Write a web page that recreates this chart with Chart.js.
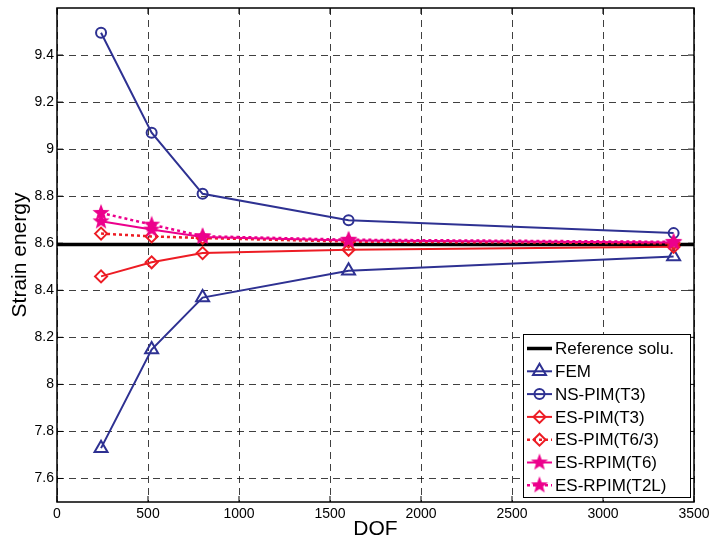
<!DOCTYPE html>
<html>
<head>
<meta charset="utf-8">
<title>Strain energy vs DOF</title>
<script src="https://cdn.jsdelivr.net/npm/chart.js@4.4.1/dist/chart.umd.min.js"></script>
<style>
  html, body { margin: 0; padding: 0; background: #fff; }
  #wrap { width: 711px; height: 542px; }
</style>
</head>
<body>
<div id="wrap"><canvas id="strainChart" width="711" height="542"></canvas></div>
<script>
// Data
const dof = [242, 520, 800, 1602, 3388];
const refValue = 8.595;
const femValues = [7.729, 8.148, 8.369, 8.483, 8.544];
const nsPimValues = [9.495, 9.07, 8.81, 8.698, 8.643];
const esPimT3Values = [8.459, 8.519, 8.558, 8.572, 8.585];
const esPimT63Values = [8.641, 8.629, 8.622, 8.607, 8.6];
const esRpimT6Values = [8.693, 8.658, 8.627, 8.612, 8.603];
const esRpimT2LValues = [8.729, 8.679, 8.63, 8.615, 8.606];

const xTicks = [0, 500, 1000, 1500, 2000, 2500, 3000, 3500];
const yTicks = [7.6, 7.8, 8, 8.2, 8.4, 8.6, 8.8, 9, 9.2, 9.4];

const BLUE = "#2e3192";
const RED = "#ed1c24";
const PINK = "#ec008c";
const FONT = "'Liberation Sans', Arial, Helvetica, sans-serif";

// Filled five point star (matlab pentagram), used as a point image
function makeStar(color, r) {
  const c = document.createElement("canvas");
  const s = Math.ceil(r * 2 + 2);
  c.width = s;
  c.height = s;
  const g = c.getContext("2d");
  g.fillStyle = color;
  g.beginPath();
  for (let i = 0; i < 10; i++) {
    const rad = i % 2 === 0 ? r : r * 0.42;
    const a = -Math.PI / 2 + (i * Math.PI) / 5;
    const px = s / 2 + rad * Math.cos(a);
    const py = s / 2 + rad * Math.sin(a);
    if (i === 0) g.moveTo(px, py);
    else g.lineTo(px, py);
  }
  g.closePath();
  g.fill();
  return c;
}
const starImg = makeStar(PINK, 9);

function pairs(values) {
  return values.map((v, i) => ({ x: dof[i], y: v }));
}

// Dataset order = legend order; later ones are drawn on top
const datasets = [
  {
    label: "Reference solu.",
    data: [{ x: 0, y: refValue }, { x: 3500, y: refValue }],
    borderColor: "#000",
    borderWidth: 3.5,
    pointRadius: 0,
  },
  {
    label: "FEM",
    data: pairs(femValues),
    borderColor: BLUE,
    borderWidth: 2,
    pointStyle: "triangle",
    pointRadius: 7.5,
    pointBorderWidth: 2,
  },
  {
    label: "NS-PIM(T3)",
    data: pairs(nsPimValues),
    borderColor: BLUE,
    borderWidth: 2,
    pointStyle: "circle",
    pointRadius: 5,
    pointBorderWidth: 2,
  },
  {
    label: "ES-PIM(T3)",
    data: pairs(esPimT3Values),
    borderColor: RED,
    borderWidth: 2,
    pointStyle: "rectRot",
    pointRadius: 6,
    pointBorderWidth: 2,
  },
  {
    label: "ES-PIM(T6/3)",
    data: pairs(esPimT63Values),
    borderColor: RED,
    borderWidth: 2.5,
    borderDash: [3, 3],
    pointStyle: "rectRot",
    pointRadius: 6,
    pointBorderWidth: 2,
  },
  {
    label: "ES-RPIM(T6)",
    data: pairs(esRpimT6Values),
    borderColor: PINK,
    borderWidth: 2,
    pointStyle: starImg,
    pointRadius: 9,
  },
  {
    label: "ES-RPIM(T2L)",
    data: pairs(esRpimT2LValues),
    borderColor: PINK,
    borderWidth: 2.5,
    borderDash: [3, 3],
    pointStyle: starImg,
    pointRadius: 9,
  },
];
datasets.forEach((ds, i) => {
  ds.order = datasets.length - i;
  ds.backgroundColor = "rgba(255,255,255,0)";
  ds.pointBackgroundColor = "rgba(255,255,255,0)";
  ds.pointBorderColor = ds.borderColor;
  ds.fill = false;
  ds.tension = 0;
});

// Axes box with inward tick marks, like matlab
const framePlugin = {
  id: "frame",
  afterDatasetsDraw(chart) {
    const { ctx, chartArea: a, scales } = chart;
    ctx.save();
    ctx.strokeStyle = "#000";
    ctx.lineWidth = 1.5;
    ctx.setLineDash([]);
    ctx.strokeRect(a.left, a.top, a.right - a.left, a.bottom - a.top);
    ctx.lineWidth = 1;
    ctx.beginPath();
    xTicks.forEach((v) => {
      const px = scales.x.getPixelForValue(v);
      ctx.moveTo(px, a.bottom);
      ctx.lineTo(px, a.bottom - 6);
      ctx.moveTo(px, a.top);
      ctx.lineTo(px, a.top + 6);
    });
    yTicks.forEach((v) => {
      const py = scales.y.getPixelForValue(v);
      ctx.moveTo(a.left, py);
      ctx.lineTo(a.left + 6, py);
      ctx.moveTo(a.right, py);
      ctx.lineTo(a.right - 6, py);
    });
    ctx.stroke();
    ctx.restore();
  },
};

// Boxed legend in the lower right corner of the plot
const legendPlugin = {
  id: "boxLegend",
  afterDatasetsDraw(chart) {
    const { ctx, chartArea: a } = chart;
    const w = 167, h = 163, rowH = 22.8;
    const x0 = Math.round(a.right - 4 - w);
    const y0 = Math.round(a.bottom - 5 - h);
    ctx.save();
    ctx.fillStyle = "#fff";
    ctx.fillRect(x0, y0, w, h);
    ctx.strokeStyle = "#000";
    ctx.lineWidth = 1;
    ctx.strokeRect(x0 + 0.5, y0 + 0.5, w, h);

    chart.data.datasets.forEach((ds, i) => {
      const y = y0 + 14.5 + i * rowH;
      ctx.strokeStyle = ds.borderColor;
      ctx.lineWidth = ds.borderWidth;
      ctx.setLineDash(ds.borderDash || []);
      ctx.beginPath();
      ctx.moveTo(x0 + 4, y);
      ctx.lineTo(x0 + 29, y);
      ctx.stroke();
      ctx.setLineDash([]);
      if (ds.pointRadius > 0) {
        ctx.strokeStyle = ds.borderColor;
        ctx.fillStyle = "rgba(255,255,255,0)";
        ctx.lineWidth = ds.pointBorderWidth || 1;
        Chart.helpers.drawPoint(ctx, {
          pointStyle: ds.pointStyle,
          radius: ds.pointRadius,
          borderWidth: ds.pointBorderWidth || 1,
          rotation: 0,
        }, x0 + 16.5, y);
      }
      ctx.fillStyle = "#000";
      ctx.font = "17px " + FONT;
      ctx.textBaseline = "middle";
      ctx.textAlign = "left";
      ctx.fillText(ds.label, x0 + 32, y + 1);
    });
    ctx.restore();
  },
};

const ctx = document.getElementById("strainChart").getContext("2d");
new Chart(ctx, {
  type: "line",
  data: { datasets: datasets },
  options: {
    responsive: false,
    animation: false,
    layout: { autoPadding: false, padding: { left: 0, right: 17, top: 8, bottom: 0 } },
    plugins: { legend: { display: false }, tooltip: { enabled: false } },
    scales: {
      x: {
        type: "linear",
        min: 0,
        max: 3500,
        afterBuildTicks: (scale) => {
          scale.ticks = xTicks.map((v) => ({ value: v }));
        },
        afterFit: (scale) => {
          scale.height = 40;
          scale.paddingLeft = 0;
          scale.paddingRight = 0;
        },
        ticks: {
          color: "#000",
          font: { family: FONT, size: 14 },
          padding: 4,
          maxRotation: 0,
          callback: (v) => String(v),
        },
        grid: { color: "rgba(0,0,0,0.75)", lineWidth: 1, drawTicks: false },
        border: { display: false, dash: [7, 5] },
        title: {
          display: true,
          text: "DOF",
          color: "#000",
          font: { family: FONT, size: 21 },
          padding: { top: 0, bottom: 0 },
        },
      },
      y: {
        type: "linear",
        min: 7.5,
        max: 9.6,
        afterBuildTicks: (scale) => {
          scale.ticks = yTicks.map((v) => ({ value: v }));
        },
        afterFit: (scale) => {
          scale.width = 57;
          scale.paddingTop = 0;
          scale.paddingBottom = 0;
        },
        ticks: {
          color: "#000",
          font: { family: FONT, size: 14 },
          padding: 3,
          callback: (v) => String(Math.round(v * 10) / 10),
        },
        grid: { color: "rgba(0,0,0,0.75)", lineWidth: 1, drawTicks: false },
        border: { display: false, dash: [7, 5] },
        title: {
          display: true,
          text: "Strain energy",
          color: "#000",
          font: { family: FONT, size: 21 },
          padding: { top: 8, bottom: 0 },
        },
      },
    },
  },
  plugins: [framePlugin, legendPlugin],
});
</script>
</body>
</html>
